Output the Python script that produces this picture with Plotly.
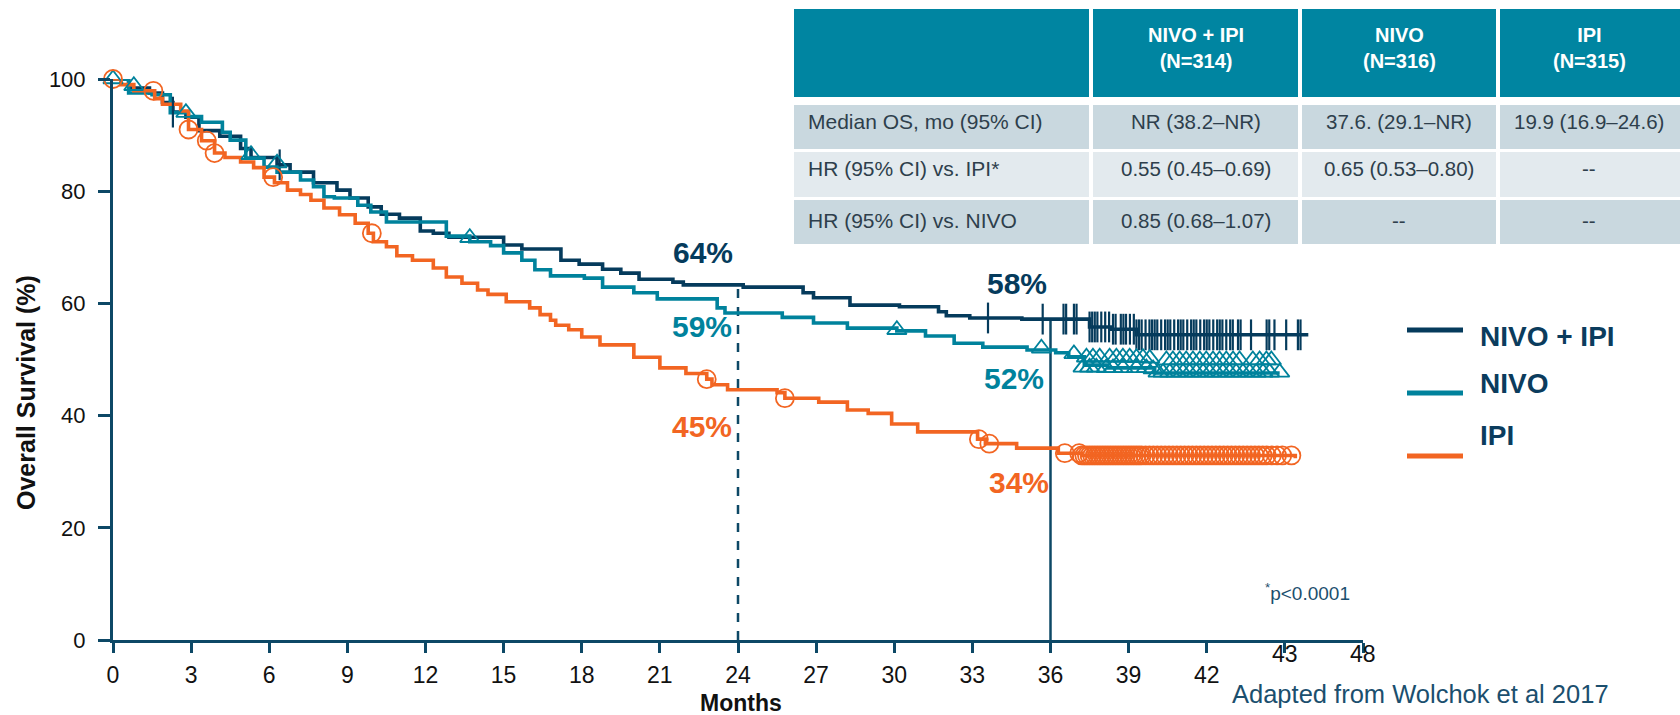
import numpy as np
import plotly.graph_objects as go

# ---------------- data ----------------
nivo_ipi_t = [0, 0.6, 1.4, 1.9, 2.3, 2.8, 3.3, 4.1, 4.9, 5.3, 6.3, 6.8, 7.7, 8.6, 9.1, 9.8, 10.3, 11.0,
              11.8, 12.3, 12.9, 15.0, 15.7, 17.2, 17.9, 18.8, 19.5, 20.2, 21.5, 21.9, 24.2, 26.5, 26.9,
              28.3, 30.2, 31.7, 32.0, 32.9, 34.9, 37.5, 38.3, 39.3, 45.9]
nivo_ipi_s = [100, 98.4, 97.5, 95.8, 94.1, 93.2, 90.8, 89.8, 87.6, 86.0, 84.7, 83.4, 81.5, 80.2, 78.8,
              77.2, 75.9, 75.2, 72.9, 72.5, 71.8, 70.4, 69.7, 67.7, 67.0, 66.1, 65.4, 64.3, 63.8, 63.3,
              62.9, 61.9, 61.0, 59.7, 59.4, 58.5, 57.8, 57.4, 57.2, 55.8, 55.4, 54.4, 54.4]

nivo_t = [0, 0.6, 1.5, 2.2, 2.9, 3.4, 4.2, 4.5, 5.1, 5.8, 6.3, 7.2, 7.7, 8.1, 8.5, 9.4, 9.9, 10.5,
          12.8, 13.7, 14.5, 15.0, 15.7, 16.2, 16.8, 18.1, 18.8, 20.0, 20.9, 23.2, 23.5, 25.7, 26.9,
          28.2, 30.1, 31.2, 32.3, 33.4, 35.1, 36.2, 36.7, 37.3, 38.2, 40.0, 44.8]
nivo_s = [100, 97.5, 97.2, 94.0, 93.3, 92.3, 90.5, 89.1, 85.9, 84.3, 83.4, 82.0, 80.8, 79.0, 78.8,
          77.5, 76.3, 74.5, 72.0, 71.0, 70.3, 69.0, 67.7, 66.0, 64.9, 64.5, 62.9, 61.9, 60.8, 59.2,
          58.3, 57.5, 56.5, 55.6, 55.1, 54.2, 52.9, 52.2, 51.7, 51.2, 50.5, 49.0, 48.5, 47.6, 47.6]

ipi_t = [0, 0.3, 0.8, 1.6, 1.9, 2.6, 2.9, 3.4, 3.9, 4.3, 4.9, 5.4, 5.8, 6.2, 6.7, 7.2, 7.6, 8.1,
         8.7, 9.3, 9.8, 10.0, 10.5, 10.9, 11.5, 12.3, 12.8, 13.4, 14.0, 14.4, 15.1, 16.0, 16.4, 16.8,
         17.0, 17.5, 18.0, 18.7, 20.0, 21.0, 22.0, 22.8, 23.0, 23.6, 25.5, 25.8, 27.1, 28.2, 29.0,
         29.9, 30.9, 33.2, 33.5, 34.7, 36.3, 37.2, 45.4]
ipi_s = [100, 99.0, 97.9, 96.5, 95.5, 94.3, 91.0, 89.0, 86.8, 86.0, 85.2, 84.2, 82.5, 81.5, 80.2,
         79.4, 78.4, 77.0, 75.8, 74.3, 72.5, 71.0, 70.1, 68.5, 67.7, 66.3, 64.7, 63.6, 62.4, 61.6,
         60.3, 59.2, 58.0, 57.0, 56.1, 55.3, 54.0, 52.6, 50.4, 48.5, 47.5, 46.5, 45.5, 44.6, 44.1,
         43.1, 42.4, 41.0, 40.4, 38.5, 37.1, 35.8, 35.0, 34.2, 33.3, 32.9, 32.4]

nivo_ipi_cens_t = [2.3, 6.4, 33.6, 35.7, 36.5, 36.6, 36.9, 37.0, 37.5, 37.6, 37.7, 37.8, 37.95, 38.1,
                   38.25, 38.4, 38.5, 38.7, 38.8, 38.9, 39.05, 39.2, 39.3, 39.4, 39.5, 39.65, 39.8,
                   39.9, 40.0, 40.1, 40.25, 40.4, 40.5, 40.6, 40.75, 40.9, 41.0, 41.1, 41.25, 41.4,
                   41.5, 41.6, 41.75, 41.9, 42.0, 42.1, 42.25, 42.4, 42.5, 42.6, 42.75, 42.9, 43.0,
                   43.2, 43.3, 43.7, 44.3, 44.4, 44.6, 45.05, 45.5, 45.6]

nivo_cens_t = [0, 0.8, 2.8, 5.3, 6.3, 13.7, 30.1, 35.65, 36.9,
               37.38, 37.63, 37.89, 38.27, 38.53, 38.78, 39.04, 39.3, 39.55, 39.81, 40.45, 40.7,
               40.96, 41.21, 41.47, 41.73, 41.98, 42.24, 42.49, 42.75, 43.01, 43.26, 43.77, 44.03,
               44.29, 44.48,
               37.25, 37.5, 37.76, 38.14, 38.4, 38.78, 39.3, 39.68, 39.94, 40.13, 40.32, 40.58,
               40.83, 41.09, 41.34, 41.6, 41.86, 42.11, 42.37, 42.62, 42.88, 43.13, 43.39, 43.65,
               43.9, 44.16, 44.41, 44.8]
nivo_cens_s = [100, 98.8, 94.0, 86.5, 85.0, 71.7, 55.3, 52.0, 51.0,
               50.4, 50.4, 50.4, 50.4, 50.4, 50.4, 50.4, 50.3, 50.3, 50.2, 49.9, 49.9,
               49.9, 49.9, 49.9, 49.9, 49.9, 49.9, 49.9, 49.9, 49.9, 49.9, 49.9, 49.9,
               49.9, 49.9,
               48.6, 48.6, 48.6, 48.5, 48.5, 48.5, 48.5, 48.5, 48.3, 47.7, 47.7, 47.7,
               47.7, 47.7, 47.7, 47.7, 47.7, 47.7, 47.7, 47.7, 47.7, 47.7, 47.7, 47.7,
               47.7, 47.7, 47.7, 47.7]

ipi_cens_t = [0, 1.55, 2.9, 3.6, 3.9, 6.15, 9.94, 22.8, 25.8, 33.25, 33.65, 36.55,
              37.1, 37.2, 37.3, 37.4, 37.5, 37.6, 37.7, 37.8, 37.9, 38.0, 38.1, 38.2, 38.3, 38.4,
              38.5, 38.6, 38.7, 38.8, 38.9, 39.0, 39.1, 39.2, 39.3, 39.4, 39.5, 39.65, 39.8, 39.95,
              40.1, 40.25, 40.4, 40.55, 40.7, 40.85, 41.0, 41.15, 41.3, 41.45, 41.6, 41.75, 41.9,
              42.05, 42.2, 42.35, 42.5, 42.65, 42.8, 42.95, 43.1, 43.25, 43.4, 43.55, 43.7, 43.85,
              44.0, 44.15, 44.3, 44.5, 44.7, 44.9, 45.25]

landmark_months = [24, 36]
landmark_labels = {
    "NIVO + IPI": ["64%", "58%"],
    "NIVO": ["59%", "52%"],
    "IPI": ["45%", "34%"],
}
label_pos = {  # (month, survival) anchor of each landmark label
    "NIVO + IPI": [(22.65, 69.0), (34.7, 63.5)],
    "NIVO": [(22.6, 55.8), (34.6, 46.7)],
    "IPI": [(22.6, 38.0), (34.8, 28.0)],
}

x_tickvals = [0, 3, 6, 9, 12, 15, 18, 21, 24, 27, 30, 33, 36, 39, 42]
x_ticktext = ["0", "3", "6", "9", "12", "15", "18", "21", "24", "27", "30", "33", "36", "39", "42"]
x_raised_vals = [45, 48]
x_raised_text = ["43", "48"]
y_tickvals = [0, 20, 40, 60, 80, 100]

table_header = ["", "NIVO + IPI<br>(N=314)", "NIVO<br>(N=316)", "IPI<br>(N=315)"]
table_rows = [
    ["Median OS, mo (95% CI)", "NR (38.2\u2013NR)", "37.6. (29.1\u2013NR)", "19.9 (16.9\u201324.6)"],
    ["HR (95% CI) vs. IPI*", "0.55 (0.45\u20130.69)", "0.65 (0.53\u20130.80)", "--"],
    ["HR (95% CI) vs. NIVO", "0.85 (0.68\u20131.07)", "--", "--"],
]

series = ["NIVO + IPI", "NIVO", "IPI"]

# ---------------- styling ----------------
W, H = 1680, 715
FONT = "Liberation Sans, Arial, Helvetica, sans-serif"
NAVY = "#053b5c"
TEAL = "#00829c"
ORANGE = "#f26522"
AXIS = "#0d4866"
TXT_NAVY = "#0b3c5d"
colors = {"NIVO + IPI": NAVY, "NIVO": TEAL, "IPI": ORANGE}


def px(x):
    return x / W


def py(y):
    return 1 - y / H


def step_at(ts, ss, t):
    ts = np.asarray(ts)
    ss = np.asarray(ss)
    idx = np.searchsorted(ts, t, side="right") - 1
    return ss[np.clip(idx, 0, len(ss) - 1)]


curves = {
    "NIVO + IPI": (nivo_ipi_t, nivo_ipi_s),
    "NIVO": (nivo_t, nivo_s),
    "IPI": (ipi_t, ipi_s),
}

fig = go.Figure()

for name in series:
    t, s = curves[name]
    fig.add_trace(go.Scatter(x=t, y=s, mode="lines", line=dict(color=colors[name], width=3.6, shape="hv"),
                             name=name, showlegend=False, cliponaxis=False, hoverinfo="skip"))

# censor marks
fig.add_trace(go.Scatter(x=nivo_ipi_cens_t, y=step_at(nivo_ipi_t, nivo_ipi_s, nivo_ipi_cens_t),
                         mode="markers", showlegend=False, cliponaxis=False, hoverinfo="skip",
                         marker=dict(symbol="line-ns-open", size=22, color=NAVY,
                                     line=dict(color=NAVY, width=2.2))))
fig.add_trace(go.Scatter(x=nivo_cens_t, y=nivo_cens_s, mode="markers", showlegend=False, cliponaxis=False,
                         hoverinfo="skip",
                         marker=dict(symbol="triangle-up-open", size=17, color=TEAL,
                                     line=dict(color=TEAL, width=1.8))))
fig.add_trace(go.Scatter(x=ipi_cens_t, y=step_at(ipi_t, ipi_s, ipi_cens_t), mode="markers",
                         showlegend=False, cliponaxis=False, hoverinfo="skip",
                         marker=dict(symbol="circle-open", size=18, color=ORANGE,
                                     line=dict(color=ORANGE, width=1.8))))

shapes = []
annotations = []

# landmark verticals
top24 = float(step_at(nivo_ipi_t, nivo_ipi_s, landmark_months[0]))
top36 = float(step_at(nivo_ipi_t, nivo_ipi_s, landmark_months[1]))
shapes.append(dict(type="line", xref="x", yref="y", x0=landmark_months[0], x1=landmark_months[0],
                   y0=0, y1=top24, line=dict(color=AXIS, width=2.5, dash="dash"), layer="below"))
shapes.append(dict(type="line", xref="x", yref="y", x0=landmark_months[1], x1=landmark_months[1],
                   y0=0, y1=top36, line=dict(color=AXIS, width=2.5), layer="below"))

# landmark labels
for name in series:
    for lab, (lx, ly) in zip(landmark_labels[name], label_pos[name]):
        annotations.append(dict(x=lx, y=ly, xref="x", yref="y", text=f"<b>{lab}</b>", showarrow=False,
                                font=dict(family=FONT, size=30, color=colors[name]),
                                xanchor="center", yanchor="middle"))

# raised tick labels
for v, tx in zip(x_raised_vals, x_raised_text):
    annotations.append(dict(x=v, y=py(654), xref="x", yref="paper", text=tx, showarrow=False,
                            font=dict(family=FONT, size=23, color="#111111"),
                            xanchor="center", yanchor="middle"))

# axis titles
annotations.append(dict(x=px(26), y=py(393), xref="paper", yref="paper", text="<b>Overall Survival (%)</b>",
                        textangle=-90, showarrow=False, font=dict(family=FONT, size=25, color="#111111"),
                        xanchor="center", yanchor="middle"))
annotations.append(dict(x=px(741), y=py(703), xref="paper", yref="paper", text="<b>Months</b>",
                        showarrow=False, font=dict(family=FONT, size=23, color="#111111"),
                        xanchor="center", yanchor="middle"))

# footnotes
annotations.append(dict(x=px(1307), y=py(592), xref="paper", yref="paper", text="<sup>*</sup>p&lt;0.0001",
                        showarrow=False, font=dict(family=FONT, size=19, color="#1b4f6e"),
                        xanchor="center", yanchor="middle"))
annotations.append(dict(x=px(1420), y=py(694), xref="paper", yref="paper",
                        text="Adapted from Wolchok et al 2017", showarrow=False,
                        font=dict(family=FONT, size=25.5, color="#1b4f6e"),
                        xanchor="center", yanchor="middle"))

# legend (custom)
leg_line_y = [330, 393, 456]
leg_text_y = [336, 383, 435]
for name, ly, ty in zip(series, leg_line_y, leg_text_y):
    shapes.append(dict(type="line", xref="paper", yref="paper", x0=px(1407), x1=px(1463), y0=py(ly), y1=py(ly),
                       line=dict(color=colors[name], width=5)))
    annotations.append(dict(x=px(1478), y=py(ty), xref="paper", yref="paper", text=f"<b>{name}</b>",
                            showarrow=False, font=dict(family=FONT, size=28, color=TXT_NAVY),
                            xanchor="left", yanchor="middle"))

# table
col_edges = [794, 1091, 1300, 1498, 1680]
row_edges = [(9, 97), (105, 149), (152, 197), (200, 244)]
row_fill = ["#0085a1", "#c9d8df", "#e3eaee", "#c9d8df"]
gap = 2
for r, (y0, y1) in enumerate(row_edges):
    for c in range(4):
        x0 = col_edges[c] + (gap if c > 0 else 0)
        x1 = col_edges[c + 1] - (gap if c < 3 else 0)
        shapes.append(dict(type="rect", xref="paper", yref="paper", x0=px(x0), x1=px(x1),
                           y0=py(y1), y1=py(y0), fillcolor=row_fill[r], line=dict(width=0), layer="above"))

for c in range(4):
    if table_header[c]:
        cx = (col_edges[c] + col_edges[c + 1]) / 2
        annotations.append(dict(x=px(cx), y=py(48), xref="paper", yref="paper",
                                text="<b>" + table_header[c].replace("<br>", "</b><br><b>") + "</b>",
                                showarrow=False, align="center", xanchor="center", yanchor="middle",
                                font=dict(family=FONT, size=20, color="white")))

row_text_y = [121, 169, 220]
for r, row in enumerate(table_rows):
    for c, val in enumerate(row):
        if c == 0:
            annotations.append(dict(x=px(806), y=py(row_text_y[r]), xref="paper", yref="paper", text=val,
                                    showarrow=False, xanchor="left", yanchor="middle",
                                    font=dict(family=FONT, size=21, color="#2e3f4c")))
        else:
            cx = (col_edges[c] + col_edges[c + 1]) / 2
            annotations.append(dict(x=px(cx), y=py(row_text_y[r]), xref="paper", yref="paper", text=val,
                                    showarrow=False, xanchor="center", yanchor="middle",
                                    font=dict(family=FONT, size=20.5, color="#2e3f4c")))

fig.update_layout(
    width=W, height=H,
    margin=dict(l=0, r=0, t=0, b=0, autoexpand=False),
    paper_bgcolor="white", plot_bgcolor="white",
    font=dict(family=FONT, size=22, color="#111111"),
    xaxis=dict(domain=[px(113), px(1363)], range=[0, 48], tickvals=x_tickvals, ticktext=x_ticktext,
               showline=True, linecolor=AXIS, linewidth=3, ticks="outside", ticklen=10, tickwidth=3,
               tickcolor=AXIS, showgrid=False, zeroline=False, ticklabelstandoff=2, automargin=False,
               tickfont=dict(family=FONT, size=23, color="#111111"),
               minor=dict(tickvals=x_raised_vals, ticks="outside", ticklen=10, tickwidth=3,
                          tickcolor=AXIS, showgrid=False)),
    yaxis=dict(domain=[py(640), py(79)], range=[0, 100], tickvals=y_tickvals,
               showline=True, linecolor=AXIS, linewidth=3, ticks="outside", ticklen=12, tickwidth=3,
               tickcolor=AXIS, showgrid=False, zeroline=False, ticklabelstandoff=8, automargin=False,
               tickfont=dict(family=FONT, size=22, color="#111111")),
    shapes=shapes,
    annotations=annotations,
    showlegend=False,
)

fig.write_html("out.html", config={"displayModeBar": False},
               post_script="document.body.style.margin='0';document.body.style.overflow='hidden';")
